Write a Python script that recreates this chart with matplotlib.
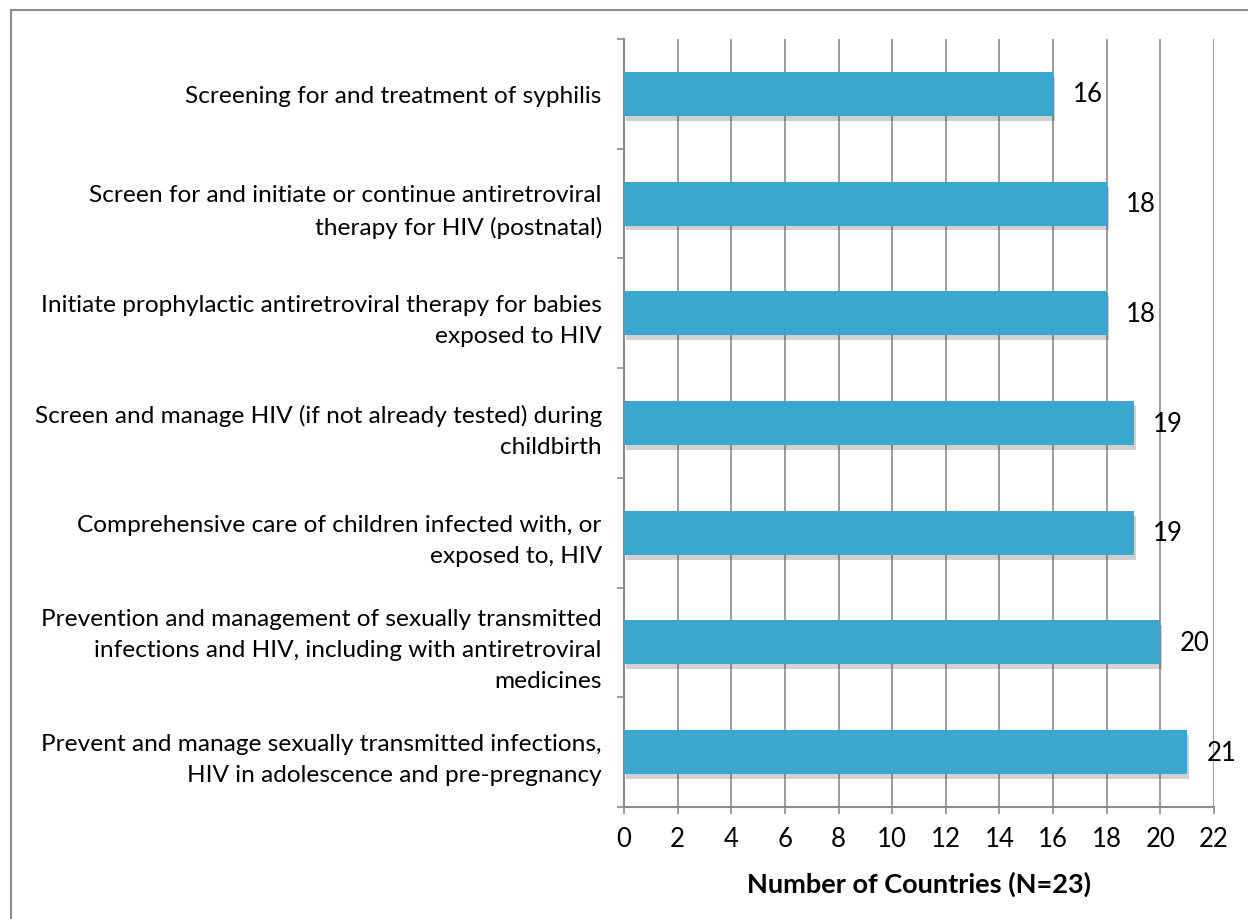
import matplotlib
matplotlib.use("Agg")
import matplotlib.pyplot as plt
import matplotlib.patheffects as pe
from matplotlib.patches import Rectangle
import numpy as np

plt.rcParams['font.family'] = ['Lato', 'DejaVu Sans']

# categories listed top to bottom
labels = [
    "Screening for and treatment of syphilis",
    "Screen for and initiate or continue antiretroviral\ntherapy for HIV (postnatal)",
    "Initiate prophylactic antiretroviral therapy for babies\nexposed to HIV",
    "Screen and manage HIV (if not already tested) during\nchildbirth",
    "Comprehensive care of children infected with, or\nexposed to, HIV",
    "Prevention and management of sexually transmitted\ninfections and HIV, including with antiretroviral\nmedicines",
    "Prevent and manage sexually transmitted infections,\nHIV in adolescence and pre-pregnancy",
]
counts = [16, 18, 18, 19, 19, 20, 21]
xticks = list(range(0, 23, 2))

BAR = "#3BA7CF"
GRID = "#8c8c8c"

fig = plt.figure(figsize=(12.48, 9.2), dpi=100)
ax = fig.add_axes([624 / 1248, 1 - 808 / 920, (1214 - 624) / 1248, (808 - 40) / 920])

# outer frame (only top/left visible in the original)
fig.patches.append(Rectangle((11 / 1248, -0.05), 1.2, 1 - 11 / 920 + 0.05,
                             transform=fig.transFigure, fill=False,
                             edgecolor="#8a8a8a", linewidth=1.5))

y = np.arange(len(labels))
bars = ax.barh(y, counts, height=0.4, color=BAR, zorder=3)
for b in bars:
    b.set_path_effects([pe.SimplePatchShadow(offset=(1.5, -3.5), alpha=0.25, shadow_rgbFace="#444444"),
                        pe.Normal()])

for yi, c in zip(y, counts):
    ax.annotate(str(c), (c, yi), xytext=(14, 0), textcoords="offset points",
                ha="left", va="center", fontsize=18.5, color="black")

ax.set_xlim(0, 22)
ax.set_ylim(len(labels) - 0.5, -0.5)
ax.set_xticks(xticks)
ax.set_xticklabels([str(t) for t in xticks], fontsize=18.5)
ax.set_yticks(y)
ax.set_yticklabels(labels, fontsize=17.6, ha="right", linespacing=1.6)
ax.set_yticks(np.arange(-0.5, len(labels)), minor=True)
ax.tick_params(axis="y", which="major", length=0, pad=16)
ax.tick_params(axis="y", which="minor", length=5, color=GRID, width=1.2)
ax.tick_params(axis="x", length=5, color=GRID, width=1.2, pad=9)

ax.grid(axis="x", color=GRID, linewidth=1.2, zorder=0)
for s in ["top", "right"]:
    ax.spines[s].set_visible(False)
for s in ["left", "bottom"]:
    ax.spines[s].set_color(GRID)
    ax.spines[s].set_linewidth(1.5)

ax.set_xlabel("Number of Countries (N=23)", fontsize=19.5, fontweight="bold", labelpad=14)

fig.savefig("out.png", dpi=100)
